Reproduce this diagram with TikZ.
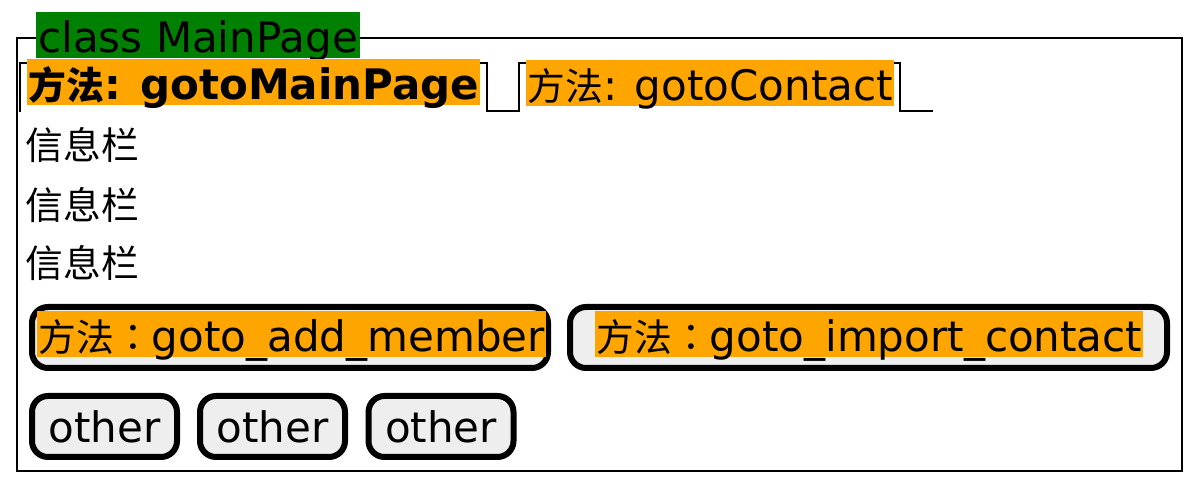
\documentclass[tikz,border=0pt]{standalone}
\usepackage{fontspec}
\setmainfont{DejaVu Sans}
\newfontfamily\cjk[Scale=0.9]{Noto Sans CJK SC}
\newfontfamily\cjkp[Scale=0.9]{Noto Sans CJK TC}
\newcommand\zh[1]{{\cjk #1}}
\newcommand\zhcolon{{\cjkp ：}}
\definecolor{hlorange}{RGB}{255,165,0}
\definecolor{titlegreen}{RGB}{0,128,0}
\definecolor{btngray}{RGB}{238,238,238}

\begin{document}
\begin{tikzpicture}[
    x=0.5pt, y=-0.5pt,
    every node/.style={font=\fontsize{21}{24}\selectfont},
    lbl/.style={inner sep=0pt, anchor=west},
    hl/.style={inner sep=0pt, anchor=base west, fill=hlorange, text height=20.5pt, text depth=2.5pt, inner xsep=0.5pt},
    titlebox/.style={hl, fill=titlegreen, inner xsep=1pt},
    frame/.style={draw=black, line width=1.25pt},
    btn/.style={draw=black, line width=3pt, rounded corners=8pt, fill=btngray, minimum height=30.5pt, inner sep=0pt}
]
\useasboundingbox (0,0) rectangle (1200,490);

% window
\draw[frame] (17,38) rectangle (1182,471);
\node[titlebox] (title) at (36,53) {class MainPage};

% tabs
\draw[frame] (20,112) -- (20,63) -- (487,63) -- (487,111) -- (519,111)
    -- (519,63) -- (900,63) -- (900,111) -- (933,111);
\node[hl] (tab-1) at (27,100) {\bfseries\zh{方法}: gotoMainPage};
\node[hl] (tab-2) at (526,101) {\zh{方法}: gotoContact};

% rows
\foreach \i/\y in {1/145,2/205,3/263}
    \node[lbl] (info-\i) at (25,\y) {\zh{信息栏}};

% buttons
\node[btn, minimum width=258pt] (btn-add) at (290,337.5) {};
\node[btn, minimum width=298.5pt] (btn-import) at (868.5,337.5) {};
\node[hl] (txt-add) at (37,352) {\zh{方法}\zhcolon goto\_add\_member};
\node[hl] (txt-import) at (595,352) {\zh{方法}\zhcolon goto\_import\_contact};

\foreach \i/\x in {1/104.5,2/272.5,3/441}
    \node[btn, minimum width=72.5pt] (other-\i) at (\x,426.5) {other};

\end{tikzpicture}
\end{document}
